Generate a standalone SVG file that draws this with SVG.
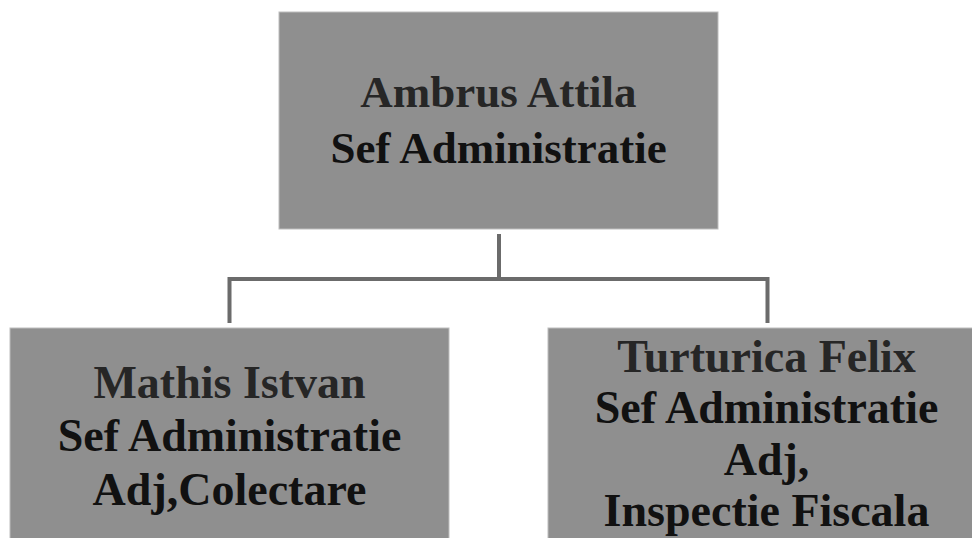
<svg xmlns="http://www.w3.org/2000/svg" width="972" height="538" viewBox="0 0 972 538">
<style>
.box{fill:#8f8f8f;stroke:#bdbdbd;stroke-width:1}
.conn{fill:none;stroke:#6b6b6b;stroke-width:4;stroke-linejoin:miter}
text{font-family:"Liberation Serif","DejaVu Serif",serif;font-weight:bold;text-anchor:middle}
.name{fill:#262626}
.role{fill:#111111}
</style>
<rect width="972" height="538" fill="#ffffff"/>
<g id="connectors">
<path class="conn" d="M499 234 V279"/>
<path class="conn" d="M229.5 323 V279 H767.5 V323"/>
</g>
<g id="node-ambrus">
<rect class="box" x="279" y="12" width="439" height="217"/>
<text class="name" x="498.5" y="107" font-size="45">Ambrus Attila</text>
<text class="role" x="498.5" y="163" font-size="45">Sef Administratie</text>
</g>
<g id="node-mathis">
<rect class="box" x="10" y="328" width="439" height="220"/>
<text class="name" x="229.5" y="398" font-size="46">Mathis Istvan</text>
<text class="role" x="229.5" y="451" font-size="46">Sef Administratie</text>
<text class="role" x="229.5" y="505" font-size="46">Adj,Colectare</text>
</g>
<g id="node-turturica">
<rect class="box" x="548" y="328" width="439" height="220"/>
<text class="name" x="766.5" y="372" font-size="46">Turturica Felix</text>
<text class="role" x="766.5" y="423" font-size="46">Sef Administratie</text>
<text class="role" x="766.5" y="475" font-size="46">Adj,</text>
<text class="role" x="766.5" y="526" font-size="46">Inspectie Fiscala</text>
</g>
</svg>
